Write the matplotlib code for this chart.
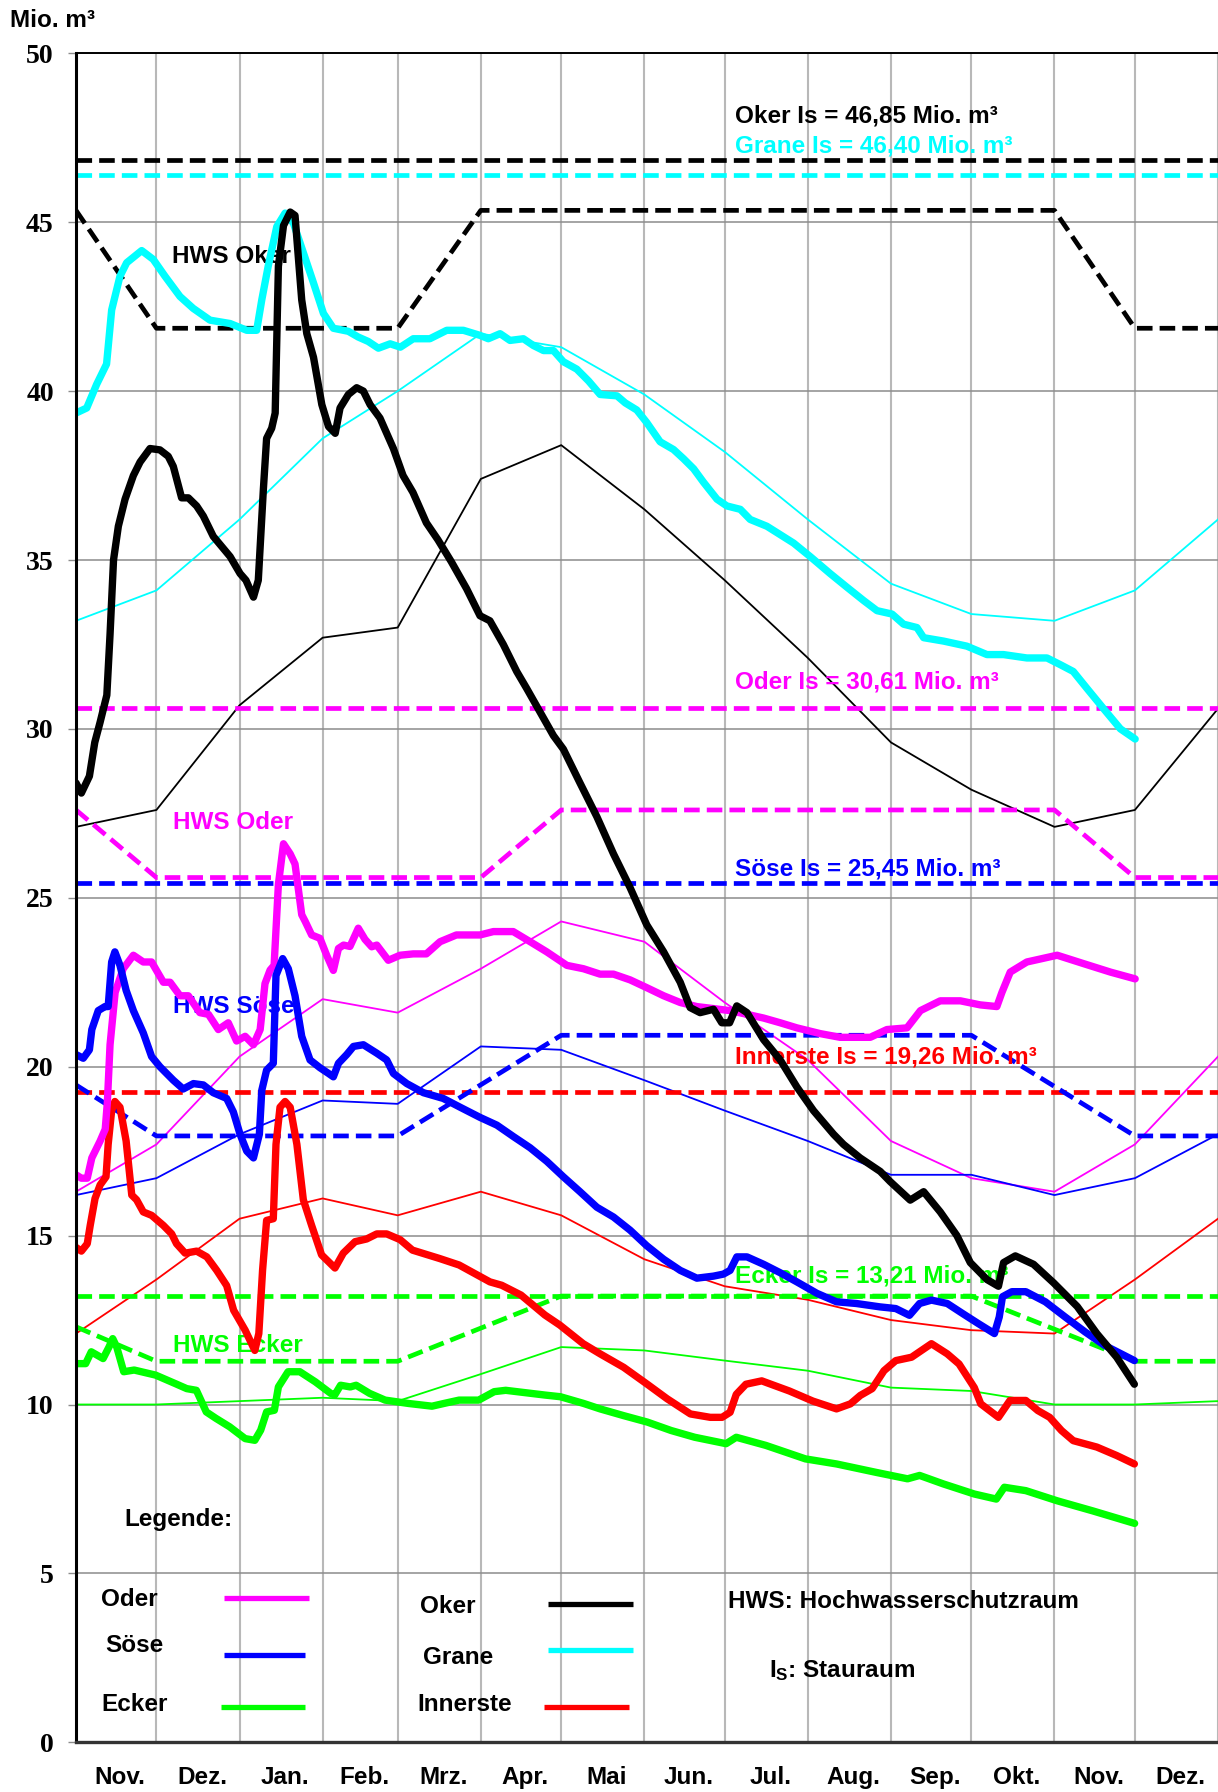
import matplotlib.pyplot as plt
from matplotlib.lines import Line2D

plt.rcParams['font.family'] = ['Liberation Sans', 'DejaVu Sans']
plt.rcParams['font.weight'] = 'bold'
plt.rcParams['mathtext.fontset'] = 'custom'
plt.rcParams['mathtext.rm'] = 'Liberation Sans:bold'
plt.rcParams['mathtext.it'] = 'Liberation Sans:bold'

# Monatsanfaenge in Tagen ab 1. November
monat_tage = [0, 30, 61, 92, 120, 151, 181, 212, 242, 273, 304, 334, 365, 395, 426]
monat_namen = ['Nov.', 'Dez.', 'Jan.', 'Feb.', 'Mrz.', 'Apr.', 'Mai', 'Jun.',
               'Jul.', 'Aug.', 'Sep.', 'Okt.', 'Nov.', 'Dez.']

# langjaehrige Mittel (duenne Linien), Werte an den Monatsanfaengen
mittel_oker = [27.1, 27.6, 30.7, 32.7, 33.0, 37.4, 38.4, 36.5, 34.4, 32.1, 29.6, 28.2, 27.1, 27.6, 30.6]
mittel_grane = [33.2, 34.1, 36.2, 38.6, 40.0, 41.7, 41.3, 39.9, 38.2, 36.2, 34.3, 33.4, 33.2, 34.1, 36.2]
mittel_oder = [16.3, 17.7, 20.3, 22.0, 21.6, 22.9, 24.3, 23.7, 21.9, 20.2, 17.8, 16.7, 16.3, 17.7, 20.3]
mittel_soese = [16.2, 16.7, 18.0, 19.0, 18.9, 20.6, 20.5, 19.6, 18.7, 17.8, 16.8, 16.8, 16.2, 16.7, 18.0]
mittel_innerste = [12.1, 13.7, 15.5, 16.1, 15.6, 16.3, 15.6, 14.3, 13.5, 13.1, 12.5, 12.2, 12.1, 13.7, 15.5]
mittel_ecker = [10.0, 10.0, 10.1, 10.2, 10.1, 10.9, 11.7, 11.6, 11.3, 11.0, 10.5, 10.4, 10.0, 10.0, 10.1]

# Stauraum Is
is_oker = 46.85
is_grane = 46.40
is_oder = 30.61
is_soese = 25.45
is_innerste = 19.26
is_ecker = 13.21

# Hochwasserschutzraum (gestrichelte Linien)
hws_oker_tag = [0, 30, 120, 151, 365, 395, 426]
hws_oker = [45.35, 41.86, 41.86, 45.35, 45.35, 41.86, 41.86]
hws_oder_tag = [0, 30, 151, 181, 365, 395, 426]
hws_oder = [27.6, 25.6, 25.6, 27.6, 27.6, 25.6, 25.6]
hws_soese_tag = [0, 30, 120, 181, 334, 395, 426]
hws_soese = [19.46, 17.95, 17.95, 20.93, 20.93, 17.95, 17.95]
hws_ecker_tag = [0, 30, 120, 181, 334, 395, 426]
hws_ecker = [12.3, 11.28, 11.28, 13.21, 13.21, 11.28, 11.28]

# aktuelle Inhalte (dicke Linien)
oker_tag = [0, 2, 5, 7, 9, 11.5, 12.7, 14, 15.8, 18.3, 21.4, 23.9, 27.6, 31.3, 34.4, 36.3, 39.4, 41.9,
            45, 47.5, 51.2, 57.5, 61.2, 63.4, 66.2, 68, 69.9, 71.1, 73, 74.3, 75.5, 77.4, 79.9, 81.7,
            84.2, 86.1, 88.6, 91.7, 94.2, 96.7, 98.5, 101.6, 104.7, 107.2, 109.7, 113.4, 118.4, 122,
            125.7, 130.7, 135, 140, 145.7, 150.7, 154.4, 159.4, 164.4, 168.1, 173.1, 178.1, 181.8, 188,
            194.3, 200.5, 206.7, 212.9, 219.2, 225.4, 229.1, 232.8, 237.8, 240.9, 243.8, 246.5, 250.3,
            256.5, 262.7, 268.9, 275.1, 282.6, 286.3, 292.5, 300, 303.7, 311.2, 316.2, 322.4, 328.6,
            333.6, 339.8, 344.1, 346, 350.4, 357.2, 364.7, 373.5, 380.8, 388.2, 394.8]
oker = [28.4, 28.1, 28.6, 29.6, 30.2, 31.0, 32.8, 35.0, 36.0, 36.8, 37.5, 37.9, 38.3, 38.26, 38.07, 37.77,
        36.84, 36.84, 36.6, 36.3, 35.7, 35.1, 34.6, 34.4, 33.9, 34.4, 37.1, 38.6, 38.9, 39.35, 43.7, 44.9,
        45.3, 45.2, 42.7, 41.7, 41.0, 39.6, 38.95, 38.75, 39.5, 39.9, 40.1, 40.0, 39.6, 39.2, 38.3, 37.5,
        37.0, 36.1, 35.6, 34.95, 34.15, 33.35, 33.2, 32.5, 31.7, 31.2, 30.5, 29.8, 29.4, 28.4, 27.4, 26.3,
        25.3, 24.2, 23.4, 22.5, 21.75, 21.6, 21.7, 21.3, 21.3, 21.8, 21.6, 20.8, 20.2, 19.4, 18.7, 18.0,
        17.7, 17.3, 16.9, 16.6, 16.05, 16.3, 15.7, 15.0, 14.2, 13.7, 13.5, 14.2, 14.4, 14.15, 13.6, 12.9,
        12.1, 11.4, 10.6]

grane_tag = [0, 4, 7.7, 11.4, 13.3, 16.4, 18.9, 24.5, 28.8, 33.2, 38.8, 43.7, 50, 57.5, 63.7, 67.4, 69.3,
             71.7, 74.9, 78, 81.1, 84.8, 88.6, 92.3, 96, 101.6, 105.3, 109, 112.8, 117.2, 121, 125.8, 132,
             138.3, 144.5, 150.7, 153.8, 158.2, 161.9, 166.9, 170.6, 174.4, 178.1, 181.8, 186.8, 191.2,
             195.5, 201.8, 204.9, 209.2, 212.9, 217.9, 222.9, 226.6, 230.4, 234.1, 239.1, 242.8, 247.8,
             251.5, 257.7, 262.7, 267.7, 273.9, 281.3, 287.5, 293.8, 298.8, 304.4, 308.7, 313.7, 316.2,
             323.6, 332.3, 339.8, 346, 354.7, 362.2, 367.2, 372, 377.1, 383.3, 389.6, 395.1]
grane = [39.35, 39.5, 40.2, 40.8, 42.4, 43.4, 43.8, 44.16, 43.9, 43.4, 42.8, 42.45, 42.1, 42.0, 41.8, 41.8,
         42.7, 43.7, 44.87, 45.27, 44.97, 44.1, 43.2, 42.3, 41.86, 41.77, 41.6, 41.47, 41.27, 41.4, 41.3,
         41.55, 41.55, 41.8, 41.8, 41.65, 41.55, 41.7, 41.5, 41.55, 41.35, 41.2, 41.2, 40.87, 40.65, 40.3,
         39.9, 39.86, 39.65, 39.44, 39.07, 38.5, 38.27, 38.0, 37.7, 37.3, 36.8, 36.6, 36.5, 36.2, 36.0,
         35.75, 35.5, 35.1, 34.6, 34.2, 33.8, 33.5, 33.4, 33.1, 33.0, 32.7, 32.6, 32.45, 32.2, 32.2, 32.1,
         32.1, 31.9, 31.7, 31.2, 30.6, 30.0, 29.7]

oder_tag = [0, 2, 4.2, 5.9, 9, 10.9, 11.7, 12.7, 14.6, 17.6, 21.4, 25.1, 28.2, 32.6, 35.1, 38.8, 41.9, 46.2,
            49.4, 53.1, 56.8, 59.9, 63.1, 66.2, 68.7, 70.5, 72.4, 73.9, 75.5, 77.4, 79.9, 81.7, 84.2, 85.5,
            87.9, 91, 93.5, 96, 97.9, 99.8, 102.2, 105.3, 107.8, 110.3, 112.2, 116.5, 120.9, 125.8, 130.7,
            135.8, 141.9, 150.7, 155.7, 163.1, 169.4, 175.6, 183.1, 189.3, 195.5, 200.5, 206.7, 212.9,
            219.2, 225.4, 231.6, 237.8, 244, 250.3, 256.5, 262.7, 268.9, 277.6, 285, 296.3, 302.5, 310,
            315, 322.4, 329.9, 337.3, 343.5, 345.4, 348.5, 354.7, 366, 375.9, 385.9, 395.1]
oder = [16.8, 16.7, 16.7, 17.3, 17.8, 18.15, 18.95, 20.65, 22.2, 22.9, 23.3, 23.1, 23.1, 22.5, 22.5, 22.1,
        22.1, 21.6, 21.55, 21.1, 21.3, 20.76, 20.9, 20.65, 21.1, 22.46, 22.86, 23.0, 25.4, 26.6, 26.3, 26.0,
        24.5, 24.3, 23.9, 23.8, 23.3, 22.85, 23.5, 23.6, 23.56, 24.1, 23.77, 23.55, 23.6, 23.15, 23.3,
        23.34, 23.34, 23.7, 23.9, 23.9, 24.0, 24.0, 23.7, 23.4, 23.0, 22.9, 22.74, 22.74, 22.57, 22.34,
        22.1, 21.9, 21.78, 21.72, 21.66, 21.55, 21.44, 21.3, 21.15, 20.98, 20.87, 20.87, 21.1, 21.15,
        21.66, 21.95, 21.95, 21.83, 21.78, 22.2, 22.8, 23.1, 23.3, 23.05, 22.8, 22.6]

soese_tag = [0, 2.7, 5, 5.9, 8.3, 10.8, 12, 13.3, 14.5, 16.4, 18.7, 21.4, 25.1, 28.2, 31.3, 36.3, 40, 43.8,
             47.5, 51.2, 56.2, 58.7, 61.2, 63.7, 66.2, 68.4, 69.3, 71.1, 73.6, 74.6, 77.1, 79.2, 81.7, 84.2,
             87.3, 91, 94.2, 96, 97.9, 101, 103.5, 107.2, 112.2, 115.9, 118.4, 123.4, 129.6, 137, 143.3,
             150.7, 157, 163.2, 169.4, 175.6, 181.8, 188, 194.3, 200.5, 206.7, 212.9, 219.2, 225.4, 231.6,
             237.8, 241.5, 244, 246.5, 250.3, 256.5, 262.7, 268.9, 276.4, 283.7, 291.1, 299.9, 305.8,
             310.9, 314.7, 319.1, 325, 330.8, 336.5, 342.6, 344.4, 345.6, 349.1, 354.3, 361.6, 369, 376.4,
             383.7, 391.1, 394.8]
soese = [20.36, 20.25, 20.5, 21.1, 21.66, 21.78, 21.78, 23.1, 23.4, 23.0, 22.26, 21.66, 21.0, 20.3, 20.0,
         19.6, 19.34, 19.5, 19.46, 19.23, 19.06, 18.66, 18.0, 17.5, 17.3, 18.0, 19.3, 19.9, 20.1, 22.7,
         23.2, 22.9, 22.1, 20.9, 20.2, 19.97, 19.8, 19.7, 20.1, 20.36, 20.6, 20.65, 20.4, 20.2, 19.8, 19.5,
         19.23, 19.06, 18.8, 18.5, 18.27, 17.93, 17.6, 17.2, 16.74, 16.3, 15.84, 15.55, 15.16, 14.7, 14.3,
         13.97, 13.74, 13.8, 13.86, 13.97, 14.37, 14.37, 14.15, 13.9, 13.63, 13.29, 13.04, 12.99, 12.89,
         12.84, 12.64, 12.99, 13.09, 12.99, 12.69, 12.4, 12.1, 12.59, 13.19, 13.34, 13.34, 13.04, 12.59,
         12.15, 11.75, 11.45, 11.3]

innerste_tag = [0, 2, 4.2, 5.3, 7.1, 9, 11.2, 12, 13.3, 14.5, 16.4, 18.7, 20.8, 22.6, 25.1, 28.2, 32.6, 35.7,
                37.5, 40.7, 45, 48.8, 52.5, 56.2, 58.8, 63.1, 66.7, 68.2, 69.6, 71.1, 73.6, 74.6, 76.1, 78,
                79.9, 82.4, 84.8, 87.9, 91.6, 96.6, 99.7, 104.1, 108.4, 112.2, 115.9, 120.9, 125.5, 135.7,
                142.9, 154.4, 158.8, 166, 174.9, 180.5, 189.2, 195.5, 204.3, 213.1, 220.5, 229.2, 236.6,
                241, 244, 246.3, 249.9, 255.8, 266.1, 274.9, 283.7, 288.9, 292.6, 297, 301.4, 305.8, 311.7,
                319.1, 325, 329.4, 335.1, 337.5, 344.1, 348.4, 354.3, 358.8, 363.2, 367.6, 372, 380.8,
                388.2, 394.8]
innerste = [14.65, 14.54, 14.76, 15.3, 16.1, 16.5, 16.74, 17.7, 18.7, 18.97, 18.8, 17.8, 16.2, 16.06, 15.7,
            15.6, 15.3, 15.05, 14.76, 14.48, 14.54, 14.37, 13.97, 13.52, 12.79, 12.2, 11.6, 12.1, 13.98,
            15.45, 15.5, 17.7, 18.8, 18.97, 18.8, 17.7, 16.06, 15.3, 14.43, 14.04, 14.48, 14.82, 14.9,
            15.05, 15.05, 14.88, 14.57, 14.32, 14.13, 13.63, 13.53, 13.24, 12.65, 12.35, 11.8, 11.5, 11.1,
            10.6, 10.17, 9.72, 9.62, 9.62, 9.77, 10.3, 10.6, 10.7, 10.4, 10.1, 9.87, 10.02, 10.27, 10.47,
            11.0, 11.3, 11.4, 11.8, 11.5, 11.2, 10.5, 10.02, 9.62, 10.12, 10.12, 9.82, 9.62, 9.23, 8.93,
            8.74, 8.49, 8.24]

ecker_tag = [0, 3.6, 5.7, 10.1, 12.3, 13.7, 15.2, 17.8, 21.7, 29.7, 37, 41.3, 44.9, 48.6, 52.2, 57.3, 63.1,
             66.7, 68.9, 71.1, 74, 75.5, 79.1, 83.5, 89.3, 95, 96.5, 98.7, 102.3, 104.5, 109.5, 115.3, 124.1,
             132.8, 137.2, 142.9, 150.2, 156, 160.3, 174.9, 180.7, 189.4, 195.5, 204.3, 213.1, 222, 230.8,
             242.5, 246.3, 257.3, 272.1, 283.7, 298.5, 310.2, 314.7, 323.5, 335.1, 343.3, 346.3, 354.3,
             366, 379.3, 394.9]
ecker = [11.21, 11.21, 11.56, 11.36, 11.7, 11.95, 11.7, 10.97, 11.02, 10.87, 10.62, 10.47, 10.42, 9.78,
         9.59, 9.34, 8.99, 8.94, 9.24, 9.78, 9.83, 10.52, 10.97, 10.97, 10.67, 10.33, 10.28, 10.57, 10.52,
         10.57, 10.33, 10.13, 10.03, 9.95, 10.03, 10.13, 10.13, 10.38, 10.42, 10.28, 10.23, 10.03, 9.87,
         9.67, 9.48, 9.23, 9.03, 8.84, 9.03, 8.79, 8.39, 8.24, 7.99, 7.8, 7.9, 7.65, 7.35, 7.2, 7.55, 7.45,
         7.15, 6.85, 6.48]

# Farben
c_oker, c_grane, c_oder = 'black', '#00FFFF', '#FF00FF'
c_soese, c_innerste, c_ecker = '#0000FF', '#FF0000', '#00FF00'

W, H = 1218, 1792


def fx(x):
    return x / W


def fy(y):
    return 1 - y / H


fig = plt.figure(figsize=(W / 100, H / 100), dpi=100)
ax = fig.add_axes([fx(76), fy(1742.3), (W - 76) / W, (1742.3 - 53.3) / H])
ax.set_xlim(0, 426)
ax.set_ylim(0, 50)

# Gitter
ax.set_yticks(range(0, 51, 5))
ax.set_xticks(monat_tage)
ax.set_xticklabels([])
ax.grid(axis='y', color='#8c8c8c', lw=1.1, zorder=0)
ax.grid(axis='x', color='#b8b8b8', lw=1.5, zorder=0)
ax.tick_params(axis='x', which='major', length=0)
ax.tick_params(axis='y', length=6, width=1, color='#8c8c8c', pad=10)
for lab in ax.get_yticklabels():
    lab.set_fontfamily(['Liberation Serif', 'DejaVu Serif'])
    lab.set_fontweight('bold')
    lab.set_fontsize(20)

# Monatsnamen
mitten = [(monat_tage[i] + monat_tage[i + 1]) / 2 + 1.5 for i in range(len(monat_namen))]
ax.set_xticks(mitten, minor=True)
ax.set_xticklabels(monat_namen, minor=True, fontsize=17.5, fontweight='bold')
ax.tick_params(axis='x', which='minor', length=0, pad=17)

ax.spines['right'].set_visible(False)
ax.spines['left'].set_linewidth(2.2)
ax.spines['top'].set_linewidth(1.4)
ax.spines['bottom'].set_linewidth(2.4)
ax.spines['bottom'].set_color('#333333')
for s in ax.spines.values():
    s.set_zorder(6)

# duenne Mittelwertlinien
for werte, farbe in [(mittel_oker, c_oker), (mittel_grane, c_grane), (mittel_oder, c_oder),
                     (mittel_soese, c_soese), (mittel_innerste, c_innerste), (mittel_ecker, c_ecker)]:
    ax.plot(monat_tage, werte, color=farbe, lw=1.3, zorder=2)

# Stauraum-Linien
strich = dict(lw=3.4, dashes=(3.3, 1.5), zorder=3)
for wert, farbe in [(is_oker, c_oker), (is_grane, c_grane), (is_oder, c_oder),
                    (is_soese, c_soese), (is_innerste, c_innerste), (is_ecker, c_ecker)]:
    ax.plot([0, 426], [wert, wert], color=farbe, **strich)

# Hochwasserschutzraum
ax.plot(hws_oker_tag, hws_oker, color=c_oker, **strich)
ax.plot(hws_oder_tag, hws_oder, color=c_oder, **strich)
ax.plot(hws_soese_tag, hws_soese, color=c_soese, **strich)
ax.plot(hws_ecker_tag, hws_ecker, color=c_ecker, **strich)

# Beschriftungen
txt = dict(fontsize=17.5, fontweight='bold', va='baseline', zorder=3.5)
ax.text(246, 47.94, 'Oker Is = 46,85 Mio. m³', color=c_oker, **txt)
ax.text(246, 47.05, 'Grane Is = 46,40 Mio. m³', color=c_grane, **txt)
ax.text(246, 31.2, 'Oder Is = 30,61 Mio. m³', color=c_oder, **txt)
ax.text(246, 25.65, 'Söse Is = 25,45 Mio. m³', color=c_soese, **txt)
ax.text(246, 20.1, 'Innerste Is = 19,26 Mio. m³', color=c_innerste, **txt)
ax.text(246, 13.6, 'Ecker Is = 13,21 Mio. m³', color=c_ecker, **txt)
ax.text(35.8, 43.8, 'HWS Oker', color=c_oker, **txt)
ax.text(36.2, 27.05, 'HWS Oder', color=c_oder, **txt)
ax.text(36.2, 21.59, 'HWS Söse', color=c_soese, **txt)
ax.text(36.2, 11.55, 'HWS Ecker', color=c_ecker, **txt)

# aktuelle Inhalte
dick = dict(lw=5.3, solid_capstyle='round', solid_joinstyle='round', zorder=4)
ax.plot(ecker_tag, ecker, color=c_ecker, **dick)
ax.plot(innerste_tag, innerste, color=c_innerste, **dick)
ax.plot(oder_tag, oder, color=c_oder, **dick)
ax.plot(soese_tag, soese, color=c_soese, **dick)
ax.plot(grane_tag, grane, color=c_grane, **dick)
ax.plot(oker_tag, oker, color=c_oker, **dick)

# Achsentitel
fig.text(fx(10), fy(27), 'Mio. m³', fontsize=17.5, fontweight='bold', va='baseline')

# Legende
leg = dict(fontsize=17.5, fontweight='bold', va='baseline')
fig.text(fx(124), fy(1526), 'Legende:', **leg)
eintraege = [
    ('Oder', 101, 1606, c_oder, 224, 309, 1598),
    ('Söse', 105, 1652, c_soese, 224, 305, 1655),
    ('Ecker', 101, 1711, c_ecker, 221, 305, 1707),
    ('Oker', 420, 1613, c_oker, 548, 633, 1604),
    ('Grane', 423, 1664, c_grane, 548, 633, 1650),
    ('Innerste', 417, 1711, c_innerste, 544, 629, 1707),
]
for name, tx, ty, farbe, x0, x1, ly in eintraege:
    fig.text(fx(tx), fy(ty), name, **leg)
    fig.add_artist(Line2D([fx(x0), fx(x1)], [fy(ly), fy(ly)], color=farbe, lw=3.8,
                          solid_capstyle='butt'))
fig.text(fx(728), fy(1608), 'HWS: Hochwasserschutzraum', **leg)
fig.text(fx(769), fy(1677), r'I$_{\mathrm{S}}$: Stauraum', **leg)

fig.savefig('out.png', dpi=100)
